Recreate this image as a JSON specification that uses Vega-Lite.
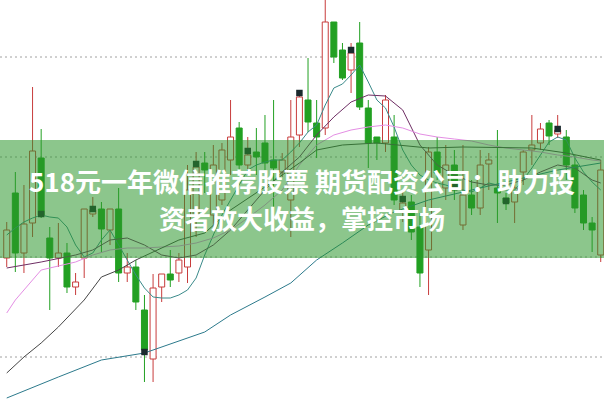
{
  "$schema": "https://vega.github.io/schema/vega-lite/v6.json",
  "width": 604,
  "height": 401,
  "padding": 0,
  "autosize": "none",
  "background": "#ffffff",
  "config": {"view": {"stroke": null}},
  "datasets": {
    "grid": [{"p": 1}, {"p": 2}, {"p": 3}, {"p": 4}],
    "candles": [
      {"i": 0, "d": "u", "o": 1.99, "c": 2.27, "h": 2.35, "l": 1.90},
      {"i": 1, "d": "d", "o": 2.64, "c": 2.04, "h": 2.85, "l": 1.85},
      {"i": 2, "d": "u", "o": 2.04, "c": 2.33, "h": 2.72, "l": 1.84},
      {"i": 3, "d": "u", "o": 2.34, "c": 3.06, "h": 3.70, "l": 2.20},
      {"i": 4, "d": "d", "o": 2.99, "c": 2.42, "h": 3.28, "l": 2.39},
      {"i": 5, "d": "d", "o": 2.19, "c": 1.99, "h": 2.30, "l": 1.47},
      {"i": 6, "d": "u", "o": 1.99, "c": 2.04, "h": 2.34, "l": 1.90},
      {"i": 7, "d": "d", "o": 2.04, "c": 1.70, "h": 2.14, "l": 1.64},
      {"i": 8, "d": "u", "o": 1.70, "c": 1.75, "h": 1.84, "l": 1.62},
      {"i": 9, "d": "u", "o": 1.99, "c": 2.48, "h": 2.48, "l": 1.79},
      {"i": 10, "d": "u", "o": 2.43, "c": 2.47, "h": 2.60, "l": 2.40},
      {"i": 11, "d": "d", "o": 2.48, "c": 2.28, "h": 2.55, "l": 2.05},
      {"i": 12, "d": "u", "o": 2.27, "c": 2.48, "h": 2.48, "l": 2.12},
      {"i": 13, "d": "d", "o": 2.48, "c": 1.84, "h": 2.69, "l": 1.75},
      {"i": 14, "d": "u", "o": 1.84, "c": 1.90, "h": 2.04, "l": 1.75},
      {"i": 15, "d": "d", "o": 1.90, "c": 1.55, "h": 1.97, "l": 1.47},
      {"i": 16, "d": "d", "o": 1.47, "c": 1.07, "h": 1.62, "l": 0.75},
      {"i": 17, "d": "u", "o": 0.98, "c": 1.69, "h": 1.83, "l": 0.75},
      {"i": 18, "d": "u", "o": 1.70, "c": 1.83, "h": 1.83, "l": 1.55},
      {"i": 19, "d": "d", "o": 1.83, "c": 1.77, "h": 2.07, "l": 1.70},
      {"i": 20, "d": "u", "o": 1.84, "c": 1.97, "h": 2.04, "l": 1.75},
      {"i": 21, "d": "u", "o": 1.90, "c": 2.67, "h": 2.92, "l": 1.74},
      {"i": 22, "d": "u", "o": 2.42, "c": 2.90, "h": 3.05, "l": 2.20},
      {"i": 23, "d": "d", "o": 2.94, "c": 2.87, "h": 3.05, "l": 2.64},
      {"i": 24, "d": "u", "o": 2.42, "c": 2.92, "h": 3.12, "l": 2.27},
      {"i": 25, "d": "u", "o": 2.57, "c": 3.07, "h": 3.14, "l": 2.52},
      {"i": 26, "d": "u", "o": 2.97, "c": 3.20, "h": 3.57, "l": 2.82},
      {"i": 27, "d": "d", "o": 3.29, "c": 2.92, "h": 3.35, "l": 2.87},
      {"i": 28, "d": "u", "o": 2.92, "c": 3.02, "h": 3.20, "l": 2.82},
      {"i": 29, "d": "d", "o": 3.05, "c": 3.00, "h": 3.29, "l": 2.82},
      {"i": 30, "d": "d", "o": 3.14, "c": 2.94, "h": 3.42, "l": 2.87},
      {"i": 31, "d": "d", "o": 2.97, "c": 2.89, "h": 3.57, "l": 2.42},
      {"i": 32, "d": "u", "o": 2.85, "c": 2.97, "h": 3.04, "l": 2.80},
      {"i": 33, "d": "u", "o": 2.57, "c": 3.20, "h": 3.57, "l": 2.20},
      {"i": 34, "d": "u", "o": 3.22, "c": 3.60, "h": 3.67, "l": 3.10},
      {"i": 35, "d": "d", "o": 3.57, "c": 3.35, "h": 3.99, "l": 3.25},
      {"i": 36, "d": "d", "o": 3.34, "c": 3.20, "h": 3.57, "l": 2.99},
      {"i": 37, "d": "u", "o": 3.29, "c": 4.35, "h": 4.62, "l": 3.22},
      {"i": 38, "d": "d", "o": 4.35, "c": 4.00, "h": 4.35, "l": 3.94},
      {"i": 39, "d": "d", "o": 4.07, "c": 3.79, "h": 4.14, "l": 3.77},
      {"i": 40, "d": "u", "o": 3.87, "c": 4.04, "h": 4.14, "l": 3.64},
      {"i": 41, "d": "d", "o": 4.14, "c": 3.50, "h": 4.35, "l": 3.47},
      {"i": 42, "d": "d", "o": 3.49, "c": 3.14, "h": 3.57, "l": 2.89},
      {"i": 43, "d": "d", "o": 3.20, "c": 3.14, "h": 3.20, "l": 2.97},
      {"i": 44, "d": "u", "o": 3.14, "c": 3.57, "h": 3.62, "l": 3.05},
      {"i": 45, "d": "d", "o": 3.20, "c": 2.57, "h": 3.42, "l": 2.52},
      {"i": 46, "d": "u", "o": 2.45, "c": 2.54, "h": 2.67, "l": 2.35},
      {"i": 47, "d": "d", "o": 2.55, "c": 2.25, "h": 2.62, "l": 2.17},
      {"i": 48, "d": "d", "o": 2.30, "c": 1.84, "h": 2.44, "l": 1.70},
      {"i": 49, "d": "u", "o": 2.07, "c": 3.05, "h": 3.10, "l": 1.62},
      {"i": 50, "d": "d", "o": 3.05, "c": 2.84, "h": 3.20, "l": 2.77},
      {"i": 51, "d": "u", "o": 2.69, "c": 2.92, "h": 3.12, "l": 2.57},
      {"i": 52, "d": "d", "o": 2.92, "c": 2.67, "h": 3.07, "l": 2.57},
      {"i": 53, "d": "u", "o": 2.32, "c": 2.62, "h": 3.12, "l": 2.27},
      {"i": 54, "d": "d", "o": 2.62, "c": 2.49, "h": 2.77, "l": 2.42},
      {"i": 55, "d": "u", "o": 2.49, "c": 2.92, "h": 3.07, "l": 2.42},
      {"i": 56, "d": "u", "o": 2.93, "c": 2.97, "h": 3.04, "l": 2.67},
      {"i": 57, "d": "d", "o": 2.69, "c": 2.64, "h": 3.27, "l": 2.34},
      {"i": 58, "d": "d", "o": 2.59, "c": 2.54, "h": 2.64, "l": 2.47},
      {"i": 59, "d": "u", "o": 2.55, "c": 2.69, "h": 2.77, "l": 2.34},
      {"i": 60, "d": "u", "o": 2.85, "c": 3.05, "h": 3.07, "l": 2.72},
      {"i": 61, "d": "u", "o": 3.07, "c": 3.12, "h": 3.42, "l": 2.92},
      {"i": 62, "d": "u", "o": 3.14, "c": 3.28, "h": 3.34, "l": 3.07},
      {"i": 63, "d": "d", "o": 3.34, "c": 3.21, "h": 3.37, "l": 3.12},
      {"i": 64, "d": "u", "o": 3.23, "c": 3.27, "h": 3.42, "l": 3.19},
      {"i": 65, "d": "d", "o": 3.20, "c": 2.92, "h": 3.27, "l": 2.77},
      {"i": 66, "d": "d", "o": 2.92, "c": 2.49, "h": 3.02, "l": 2.44},
      {"i": 67, "d": "d", "o": 2.62, "c": 2.34, "h": 2.67, "l": 2.27},
      {"i": 68, "d": "d", "o": 2.34, "c": 2.27, "h": 2.40, "l": 2.05},
      {"i": 69, "d": "u", "o": 2.02, "c": 2.87, "h": 2.97, "l": 1.95}
    ],
    "markers": [
      {"i": 4, "p": 2.43}, {"i": 10, "p": 2.48}, {"i": 16, "p": 1.05},
      {"i": 22, "p": 2.93}, {"i": 28, "p": 3.06}, {"i": 34, "p": 3.64},
      {"i": 40, "p": 4.07}, {"i": 46, "p": 2.58}, {"i": 52, "p": 2.70},
      {"i": 58, "p": 2.56}, {"i": 64, "p": 3.28}
    ],
    "ma": [
      {"s": "ma5", "i": 0, "p": 2.22}, {"s": "ma5", "i": 1, "p": 2.29}, {"s": "ma5", "i": 2, "p": 2.35}, {"s": "ma5", "i": 3, "p": 2.39},
      {"s": "ma5", "i": 4, "p": 2.42}, {"s": "ma5", "i": 5, "p": 2.40}, {"s": "ma5", "i": 6, "p": 2.39}, {"s": "ma5", "i": 7, "p": 2.30},
      {"s": "ma5", "i": 8, "p": 2.12}, {"s": "ma5", "i": 9, "p": 2.00}, {"s": "ma5", "i": 10, "p": 2.04}, {"s": "ma5", "i": 11, "p": 2.17},
      {"s": "ma5", "i": 12, "p": 2.27}, {"s": "ma5", "i": 13, "p": 2.12}, {"s": "ma5", "i": 14, "p": 1.97}, {"s": "ma5", "i": 15, "p": 1.82},
      {"s": "ma5", "i": 16, "p": 1.69}, {"s": "ma5", "i": 17, "p": 1.60}, {"s": "ma5", "i": 18, "p": 1.59}, {"s": "ma5", "i": 19, "p": 1.59},
      {"s": "ma5", "i": 20, "p": 1.62}, {"s": "ma5", "i": 21, "p": 1.67}, {"s": "ma5", "i": 22, "p": 1.79}, {"s": "ma5", "i": 23, "p": 2.02},
      {"s": "ma5", "i": 24, "p": 2.22}, {"s": "ma5", "i": 25, "p": 2.42}, {"s": "ma5", "i": 26, "p": 2.57}, {"s": "ma5", "i": 27, "p": 2.72},
      {"s": "ma5", "i": 28, "p": 2.87}, {"s": "ma5", "i": 29, "p": 2.92}, {"s": "ma5", "i": 30, "p": 2.95}, {"s": "ma5", "i": 31, "p": 2.97},
      {"s": "ma5", "i": 32, "p": 2.97}, {"s": "ma5", "i": 33, "p": 3.05}, {"s": "ma5", "i": 34, "p": 3.14}, {"s": "ma5", "i": 35, "p": 3.25},
      {"s": "ma5", "i": 36, "p": 3.32}, {"s": "ma5", "i": 37, "p": 3.52}, {"s": "ma5", "i": 38, "p": 3.69}, {"s": "ma5", "i": 39, "p": 3.73},
      {"s": "ma5", "i": 40, "p": 3.82}, {"s": "ma5", "i": 41, "p": 3.92}, {"s": "ma5", "i": 42, "p": 3.75}, {"s": "ma5", "i": 43, "p": 3.57},
      {"s": "ma5", "i": 44, "p": 3.49}, {"s": "ma5", "i": 45, "p": 3.30}, {"s": "ma5", "i": 46, "p": 3.07}, {"s": "ma5", "i": 47, "p": 2.92},
      {"s": "ma5", "i": 48, "p": 2.82}, {"s": "ma5", "i": 49, "p": 2.77}, {"s": "ma5", "i": 50, "p": 2.74}, {"s": "ma5", "i": 51, "p": 2.72},
      {"s": "ma5", "i": 52, "p": 2.69}, {"s": "ma5", "i": 53, "p": 2.67}, {"s": "ma5", "i": 54, "p": 2.65}, {"s": "ma5", "i": 55, "p": 2.69},
      {"s": "ma5", "i": 56, "p": 2.74}, {"s": "ma5", "i": 57, "p": 2.72}, {"s": "ma5", "i": 58, "p": 2.67}, {"s": "ma5", "i": 59, "p": 2.67},
      {"s": "ma5", "i": 60, "p": 2.77}, {"s": "ma5", "i": 61, "p": 2.89}, {"s": "ma5", "i": 62, "p": 3.02}, {"s": "ma5", "i": 63, "p": 3.15},
      {"s": "ma5", "i": 64, "p": 3.20}, {"s": "ma5", "i": 65, "p": 3.17}, {"s": "ma5", "i": 66, "p": 2.99}, {"s": "ma5", "i": 67, "p": 2.85},
      {"s": "ma5", "i": 68, "p": 2.75}, {"s": "ma5", "i": 69, "p": 2.67},

      {"s": "ma10", "i": 0, "p": 1.89}, {"s": "ma10", "i": 4, "p": 1.95}, {"s": "ma10", "i": 8, "p": 2.02}, {"s": "ma10", "i": 10, "p": 2.07},
      {"s": "ma10", "i": 12, "p": 2.17}, {"s": "ma10", "i": 14, "p": 2.19}, {"s": "ma10", "i": 16, "p": 2.12}, {"s": "ma10", "i": 18, "p": 2.02},
      {"s": "ma10", "i": 20, "p": 1.99}, {"s": "ma10", "i": 22, "p": 2.02}, {"s": "ma10", "i": 24, "p": 2.12}, {"s": "ma10", "i": 26, "p": 2.27},
      {"s": "ma10", "i": 28, "p": 2.47}, {"s": "ma10", "i": 30, "p": 2.67}, {"s": "ma10", "i": 32, "p": 2.85}, {"s": "ma10", "i": 34, "p": 3.00},
      {"s": "ma10", "i": 36, "p": 3.22}, {"s": "ma10", "i": 38, "p": 3.40}, {"s": "ma10", "i": 40, "p": 3.55}, {"s": "ma10", "i": 42, "p": 3.62},
      {"s": "ma10", "i": 44, "p": 3.61}, {"s": "ma10", "i": 46, "p": 3.47}, {"s": "ma10", "i": 48, "p": 3.12}, {"s": "ma10", "i": 50, "p": 2.92},
      {"s": "ma10", "i": 52, "p": 2.82}, {"s": "ma10", "i": 54, "p": 2.75}, {"s": "ma10", "i": 56, "p": 2.72}, {"s": "ma10", "i": 58, "p": 2.72},
      {"s": "ma10", "i": 60, "p": 2.77}, {"s": "ma10", "i": 62, "p": 2.85}, {"s": "ma10", "i": 64, "p": 2.92}, {"s": "ma10", "i": 66, "p": 2.89},
      {"s": "ma10", "i": 68, "p": 2.77}, {"s": "ma10", "i": 69, "p": 2.74},

      {"s": "ma20", "i": 0, "p": 1.44}, {"s": "ma20", "i": 1, "p": 1.57}, {"s": "ma20", "i": 2, "p": 1.67}, {"s": "ma20", "i": 3, "p": 1.77},
      {"s": "ma20", "i": 4, "p": 1.87}, {"s": "ma20", "i": 6, "p": 1.91}, {"s": "ma20", "i": 8, "p": 1.95}, {"s": "ma20", "i": 10, "p": 2.02},
      {"s": "ma20", "i": 12, "p": 2.07}, {"s": "ma20", "i": 14, "p": 2.09}, {"s": "ma20", "i": 16, "p": 2.09}, {"s": "ma20", "i": 18, "p": 2.10},
      {"s": "ma20", "i": 20, "p": 2.11}, {"s": "ma20", "i": 22, "p": 2.14}, {"s": "ma20", "i": 24, "p": 2.19}, {"s": "ma20", "i": 26, "p": 2.27},
      {"s": "ma20", "i": 28, "p": 2.39}, {"s": "ma20", "i": 30, "p": 2.52}, {"s": "ma20", "i": 32, "p": 2.67}, {"s": "ma20", "i": 34, "p": 2.92},
      {"s": "ma20", "i": 36, "p": 3.12}, {"s": "ma20", "i": 38, "p": 3.22}, {"s": "ma20", "i": 40, "p": 3.27}, {"s": "ma20", "i": 42, "p": 3.30},
      {"s": "ma20", "i": 44, "p": 3.32}, {"s": "ma20", "i": 46, "p": 3.29}, {"s": "ma20", "i": 48, "p": 3.23}, {"s": "ma20", "i": 50, "p": 3.20},
      {"s": "ma20", "i": 52, "p": 3.18}, {"s": "ma20", "i": 54, "p": 3.16}, {"s": "ma20", "i": 56, "p": 3.12}, {"s": "ma20", "i": 58, "p": 3.09},
      {"s": "ma20", "i": 60, "p": 3.07}, {"s": "ma20", "i": 62, "p": 3.05}, {"s": "ma20", "i": 64, "p": 3.02}, {"s": "ma20", "i": 66, "p": 3.00},
      {"s": "ma20", "i": 68, "p": 2.97}, {"s": "ma20", "i": 69, "p": 2.96},

      {"s": "ma30", "i": 0, "p": 0.84}, {"s": "ma30", "i": 2, "p": 1.00}, {"s": "ma30", "i": 4, "p": 1.14}, {"s": "ma30", "i": 6, "p": 1.30},
      {"s": "ma30", "i": 9, "p": 1.57}, {"s": "ma30", "i": 11, "p": 1.80}, {"s": "ma30", "i": 13, "p": 1.87}, {"s": "ma30", "i": 15, "p": 1.97},
      {"s": "ma30", "i": 20, "p": 2.17}, {"s": "ma30", "i": 23, "p": 2.24}, {"s": "ma30", "i": 26, "p": 2.47}, {"s": "ma30", "i": 30, "p": 2.70},
      {"s": "ma30", "i": 34, "p": 2.94}, {"s": "ma30", "i": 36, "p": 3.07}, {"s": "ma30", "i": 39, "p": 3.12}, {"s": "ma30", "i": 43, "p": 3.14},
      {"s": "ma30", "i": 49, "p": 3.09}, {"s": "ma30", "i": 53, "p": 3.10}, {"s": "ma30", "i": 61, "p": 3.09}, {"s": "ma30", "i": 65, "p": 3.04},
      {"s": "ma30", "i": 69, "p": 2.97},

      {"s": "ma60", "i": 0, "p": 0.59}, {"s": "ma60", "i": 6, "p": 0.80}, {"s": "ma60", "i": 11, "p": 0.97}, {"s": "ma60", "i": 16, "p": 1.04},
      {"s": "ma60", "i": 23, "p": 1.25}, {"s": "ma60", "i": 26, "p": 1.42}, {"s": "ma60", "i": 30, "p": 1.60}, {"s": "ma60", "i": 33, "p": 1.74},
      {"s": "ma60", "i": 36, "p": 1.97}, {"s": "ma60", "i": 39, "p": 2.14}, {"s": "ma60", "i": 42, "p": 2.32}, {"s": "ma60", "i": 45, "p": 2.45},
      {"s": "ma60", "i": 49, "p": 2.57}, {"s": "ma60", "i": 54, "p": 2.67}, {"s": "ma60", "i": 59, "p": 2.77}, {"s": "ma60", "i": 64, "p": 2.87},
      {"s": "ma60", "i": 69, "p": 2.94}
    ],
    "banner": [{"i": -1, "i2": 70, "p": 1.99, "p2": 3.17}],
    "text": [
      {"i": 34.3, "p": 2.65, "t": "518元一年微信推荐股票 期货配资公司：助力投"},
      {"i": 34.3, "p": 2.28, "t": "资者放大收益，掌控市场"}
    ]
  },
  "encoding": {
    "x": {"field": "i", "type": "quantitative", "scale": {"domain": [-0.2, 68.8], "nice": false, "zero": false}, "axis": null}
  },
  "resolve": {"scale": {"color": "independent", "stroke": "independent", "fill": "independent"}},
  "layer": [
    {
      "data": {"name": "grid"},
      "mark": {"type": "rule", "color": "#a0a0a0", "strokeDash": [2, 3], "strokeWidth": 1},
      "encoding": {
        "x": {"value": 0},
        "x2": {"value": 604},
        "y": {"field": "p", "type": "quantitative", "scale": {"domain": [0.56, 4.57], "nice": false, "zero": false}, "axis": null}
      }
    },
    {
      "data": {"name": "candles"},
      "mark": {"type": "rule", "strokeWidth": 1, "clip": true},
      "encoding": {
        "y": {"field": "l", "type": "quantitative", "scale": {"domain": [0.56, 4.57], "nice": false, "zero": false}, "axis": null},
        "y2": {"field": "h"},
        "color": {"field": "d", "type": "nominal", "scale": {"domain": ["u", "d"], "range": ["#c83c3c", "#22a022"]}, "legend": null}
      }
    },
    {
      "data": {"name": "candles"},
      "mark": {"type": "bar", "width": 6, "strokeWidth": 1, "clip": true},
      "encoding": {
        "y": {"field": "o", "type": "quantitative", "scale": {"domain": [0.56, 4.57], "nice": false, "zero": false}, "axis": null},
        "y2": {"field": "c"},
        "fill": {"field": "d", "type": "nominal", "scale": {"domain": ["u", "d"], "range": ["#ffffff", "#22a022"]}, "legend": null},
        "stroke": {"field": "d", "type": "nominal", "scale": {"domain": ["u", "d"], "range": ["#c83c3c", "#22a022"]}, "legend": null}
      }
    },
    {
      "data": {"name": "ma"},
      "mark": {"type": "line", "strokeWidth": 1, "clip": true},
      "encoding": {
        "y": {"field": "p", "type": "quantitative", "scale": {"domain": [0.56, 4.57], "nice": false, "zero": false}, "axis": null},
        "color": {"field": "s", "type": "nominal", "scale": {"domain": ["ma5", "ma10", "ma20", "ma30", "ma60"], "range": ["#3a8a8a", "#6e2e64", "#e48ee4", "#454545", "#2c7a8c"]}, "legend": null}
      }
    },
    {
      "data": {"name": "markers"},
      "mark": {"type": "square", "size": 42, "filled": true, "color": "#1b2a2e", "opacity": 1},
      "encoding": {
        "y": {"field": "p", "type": "quantitative", "scale": {"domain": [0.56, 4.57], "nice": false, "zero": false}, "axis": null}
      }
    },
    {
      "data": {"name": "banner"},
      "mark": {"type": "rect", "color": "#2a962a", "opacity": 0.54, "clip": true},
      "encoding": {
        "x2": {"field": "i2"},
        "y": {"field": "p", "type": "quantitative", "scale": {"domain": [0.56, 4.57], "nice": false, "zero": false}, "axis": null},
        "y2": {"field": "p2"}
      }
    },
    {
      "data": {"name": "text"},
      "mark": {"type": "text", "font": "Noto Sans CJK SC", "fontWeight": "bold", "fontSize": 26, "color": "#ffffff", "align": "center", "baseline": "alphabetic"},
      "encoding": {
        "y": {"field": "p", "type": "quantitative", "scale": {"domain": [0.56, 4.57], "nice": false, "zero": false}, "axis": null},
        "text": {"field": "t", "type": "nominal"}
      }
    }
  ]
}
